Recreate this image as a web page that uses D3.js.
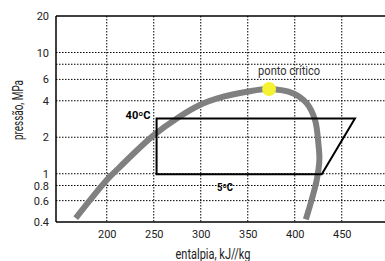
<!DOCTYPE html>
<html>
<head>
<meta charset="utf-8">
<script src="https://cdn.jsdelivr.net/npm/d3@7"></script>
<style>
  body { margin: 0; background: #fff; }
  svg text { font-family: Roboto, "Liberation Sans", sans-serif; fill: #222; }
  .grid line { stroke: #000; stroke-width: 1; stroke-dasharray: 1.5,1.5; }
</style>
</head>
<body>
<div id="chart"></div>
<script>
const width = 385
const height = 261
const margin = { top: 16, bottom: 39, left: 56, right: 0 }

// ticks
const xTicks = [200, 250, 300, 350, 400, 450]
const yTicks = [20, 10, 6, 4, 2, 1, 0.8, 0.6, 0.4]
const yGrid = [10, 8, 6, 4, 2, 1, 0.8, 0.6]

// curva de saturacao (entalpia kJ/kg, pressao MPa)
const domeH = [167, 200, 214, 250, 274.5, 299, 324, 349, 372.7, 398.5, 412.8, 421.6, 425.1, 426.2, 423.4, 418, 411.8]
const domeP = [0.43, 0.887, 1.14, 2.08, 2.86, 3.69, 4.32, 4.75, 5.0, 4.6, 3.81, 2.77, 1.78, 1.30, 0.89, 0.61, 0.42]

// ciclo
const cycleH = [253, 464, 428.7, 253]
const cycleP = [2.86, 2.86, 0.99, 0.99]

// ponto critico
const critH = 372.7
const critP = 5.0

const svg = d3.select("#chart").append("svg")
    .attr("width", width)
    .attr("height", height)

const x = d3.scaleLinear().domain([146, 496]).range([margin.left, 385])
const y = d3.scaleLog().domain([0.4, 20]).range([height - margin.bottom, margin.top])

// grelha
const grid = svg.append("g").attr("class", "grid")
grid.selectAll(".v").data(xTicks).enter().append("line")
    .attr("x1", d => x(d)).attr("x2", d => x(d))
    .attr("y1", margin.top).attr("y2", height - margin.bottom)
grid.selectAll(".h").data(yGrid).enter().append("line")
    .attr("x1", margin.left).attr("x2", width)
    .attr("y1", d => y(d)).attr("y2", d => y(d))

// moldura (sem lado direito)
const frame = svg.append("g").attr("stroke", "#000").attr("stroke-width", 1.5)
frame.append("line").attr("x1", margin.left).attr("x2", width).attr("y1", margin.top).attr("y2", margin.top)
frame.append("line").attr("x1", margin.left).attr("x2", width).attr("y1", height - margin.bottom).attr("y2", height - margin.bottom)
frame.append("line").attr("x1", margin.left).attr("x2", margin.left).attr("y1", margin.top).attr("y2", height - margin.bottom)

// eixos (apenas texto)
const xAxis = d3.axisBottom(x).tickValues(xTicks).tickSize(0).tickPadding(8).tickFormat(d3.format("d"))
const xg = svg.append("g").attr("transform", `translate(0,${height - margin.bottom})`).call(xAxis)
xg.select(".domain").remove()

const yAxis = d3.axisLeft(y).tickValues(yTicks).tickSize(0).tickPadding(7).tickFormat(d => String(d))
const yg = svg.append("g").attr("transform", `translate(${margin.left},0)`).call(yAxis)
yg.select(".domain").remove()
svg.selectAll(".tick text").attr("font-size", 11).style("fill", "#222")
svg.selectAll("g[font-family]").attr("font-family", null)

// curva
const domeData = domeH.map((h, i) => [h, domeP[i]])
const line = d3.line().x(d => x(d[0])).y(d => y(d[1])).curve(d3.curveCatmullRom)
svg.append("path")
    .datum(domeData)
    .attr("d", line)
    .attr("fill", "none")
    .attr("stroke", "#808080")
    .attr("stroke-width", 6)

// ciclo
const cycleData = cycleH.map((h, i) => [h, cycleP[i]])
svg.append("path")
    .datum(cycleData)
    .attr("d", d3.line().x(d => x(d[0])).y(d => y(d[1])).curve(d3.curveLinearClosed))
    .attr("fill", "none")
    .attr("stroke", "#000")
    .attr("stroke-width", 2)

// ponto critico
svg.append("circle")
    .attr("cx", x(critH)).attr("cy", y(critP)).attr("r", 7)
    .attr("fill", "#f5f233")

svg.append("text")
    .attr("x", x(critH) + 20).attr("y", y(critP) - 14)
    .attr("text-anchor", "middle")
    .attr("font-size", 13)
    .attr("textLength", 62).attr("lengthAdjust", "spacingAndGlyphs")
    .style("fill", "#333")
    .text("ponto crítico")

svg.append("text")
    .attr("x", x(cycleH[0]) - 6).attr("y", y(cycleP[0]) + 1)
    .attr("text-anchor", "end")
    .attr("font-size", 10.5).attr("font-weight", "bold")
    .attr("textLength", 25).attr("lengthAdjust", "spacingAndGlyphs")
    .style("fill", "#000")
    .text("40ºC")

svg.append("text")
    .attr("x", 225).attr("y", y(cycleP[3]) + 17)
    .attr("text-anchor", "middle")
    .attr("font-size", 10.5).attr("font-weight", "bold")
    .attr("textLength", 16).attr("lengthAdjust", "spacingAndGlyphs")
    .style("fill", "#000")
    .text("5ºC")

// titulos dos eixos
svg.append("text")
    .attr("x", 213).attr("y", height - 2)
    .attr("text-anchor", "middle")
    .attr("font-size", 14)
    .attr("textLength", 75).attr("lengthAdjust", "spacingAndGlyphs")
    .text("entalpia, kJ//kg")

svg.append("text")
    .attr("transform", `translate(23,110) rotate(-90)`)
    .attr("text-anchor", "middle")
    .attr("font-size", 14)
    .attr("textLength", 60).attr("lengthAdjust", "spacingAndGlyphs")
    .text("pressão, MPa")
</script>
</body>
</html>
